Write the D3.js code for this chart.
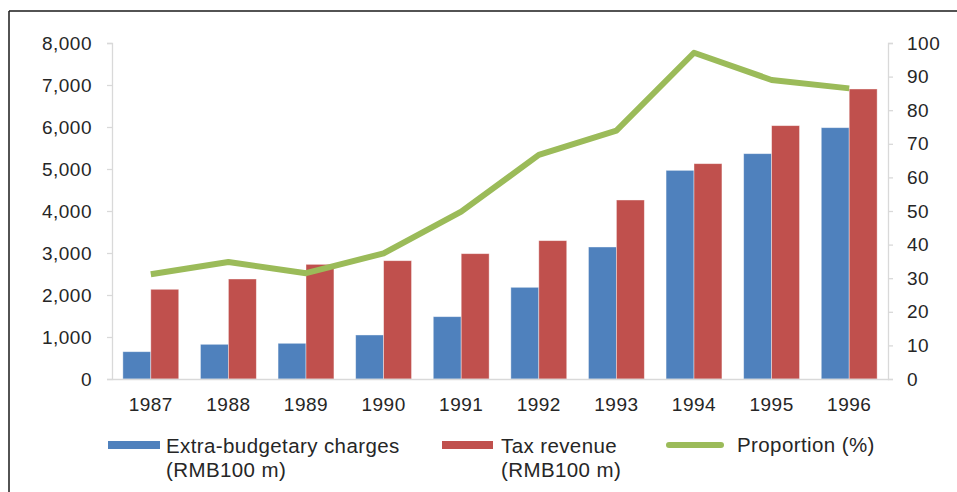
<!DOCTYPE html>
<html>
<head>
<meta charset="utf-8">
<script src="https://cdn.jsdelivr.net/npm/d3@7"></script>
<style>
    body { margin: 0; background: #fff; }
    svg { display: block; }
    text { font-family: "Liberation Sans", Arial, sans-serif; fill: #262626; }
</style>
</head>
<body>
<svg width="957" height="492"></svg>
<script>
// Data
const years = ["1987", "1988", "1989", "1990", "1991", "1992", "1993", "1994", "1995", "1996"];
const extraBudget = [650, 826, 850, 1048, 1484, 2183, 3143, 4968, 5365, 5984];
const taxRevenue = [2136, 2381, 2730, 2817, 2984, 3294, 4262, 5127, 6032, 6905];
const proportion = [31.2, 34.8, 31.5, 37.4, 49.8, 66.7, 73.9, 97.1, 89.0, 86.5];
const leftTicks = [0, 1000, 2000, 3000, 4000, 5000, 6000, 7000, 8000];
const rightTicks = [0, 10, 20, 30, 40, 50, 60, 70, 80, 90, 100];

const barColors = { extra: "#4F81BD", tax: "#C0504D" };
const lineColor = "#9BBB59";

const svg = d3.select("svg");

// frame around the chart (top + left edges visible)
svg.append("line").attr("x1", 9).attr("x2", 957).attr("y1", 11).attr("y2", 11)
    .attr("stroke", "#1a1a1a").attr("stroke-width", 1.5);
svg.append("line").attr("x1", 9).attr("x2", 9).attr("y1", 11).attr("y2", 492)
    .attr("stroke", "#1a1a1a").attr("stroke-width", 1.5);

const plot = { left: 112, right: 888, top: 43, bottom: 379 };

const x = d3.scaleBand()
    .domain(years)
    .range([plot.left, plot.right])
    .paddingInner(0.28)
    .paddingOuter(0.14);

const x1 = d3.scaleBand()
    .domain(["extra", "tax"])
    .range([0, x.bandwidth()]);

const yLeft = d3.scaleLinear().domain([0, 8000]).range([plot.bottom, plot.top]);
const yRight = d3.scaleLinear().domain([0, 100]).range([plot.bottom, plot.top]);

// Left axis
const leftAxis = svg.append("g")
    .attr("transform", `translate(${plot.left},0)`)
    .call(d3.axisLeft(yLeft).tickValues(leftTicks).tickSize(5).tickPadding(15)
        .tickFormat(d3.format(",")));

// Right axis
const rightAxis = svg.append("g")
    .attr("transform", `translate(${plot.right},0)`)
    .call(d3.axisRight(yRight).tickValues(rightTicks).tickSize(5).tickPadding(14));

[leftAxis, rightAxis].forEach(ax => {
    ax.select(".domain").attr("stroke", "#d9d9d9").attr("stroke-width", 1.3);
    ax.selectAll(".tick line").attr("stroke", "#d9d9d9").attr("stroke-width", 1.3);
    ax.selectAll(".tick text")
        .attr("fill", "#262626")
        .style("font-size", "19px")
        .style("letter-spacing", "0.5px")
        .style("font-family", "'Liberation Sans', Arial, sans-serif");
});

// Bars
const rows = years.map((yr, i) => ({ year: yr, extra: extraBudget[i], tax: taxRevenue[i] }));

const groups = svg.append("g").selectAll("g")
    .data(rows)
    .enter().append("g")
    .attr("transform", d => `translate(${x(d.year)},0)`);

groups.selectAll("rect")
    .data(d => ["extra", "tax"].map(k => ({ key: k, value: d[k] })))
    .enter().append("rect")
    .attr("x", d => x1(d.key))
    .attr("y", d => yLeft(d.value))
    .attr("width", x1.bandwidth())
    .attr("height", d => plot.bottom - yLeft(d.value))
    .attr("fill", d => barColors[d.key])
    .attr("stroke", "#ffffff")
    .attr("stroke-opacity", 0.5)
    .attr("stroke-width", 0.8);

// Bottom axis line (drawn over bars)
const bottomAxis = svg.append("g")
    .attr("transform", `translate(0,${plot.bottom})`)
    .call(d3.axisBottom(x).tickSize(0).tickPadding(19));
bottomAxis.select(".domain").attr("stroke", "#d9d9d9").attr("stroke-width", 1.3);
bottomAxis.selectAll(".tick text")
    .attr("fill", "#262626")
    .style("font-size", "19px")
    .style("letter-spacing", "0.5px")
    .style("font-family", "'Liberation Sans', Arial, sans-serif");

// Proportion line on right axis
const line = d3.line()
    .x((d, i) => x(years[i]) + x.bandwidth() / 2)
    .y(d => yRight(d));

svg.append("path")
    .datum(proportion)
    .attr("d", line)
    .attr("fill", "none")
    .attr("stroke", lineColor)
    .attr("stroke-width", 6)
    .attr("stroke-linejoin", "round");

// Legend
const legend = svg.append("g").style("font-size", "20.5px").style("letter-spacing", "0.4px");

legend.append("rect").attr("x", 108).attr("y", 441).attr("width", 52).attr("height", 8)
    .attr("fill", barColors.extra);
legend.append("text").attr("x", 166).attr("y", 453).text("Extra-budgetary charges");
legend.append("text").attr("x", 166).attr("y", 477).text("(RMB100 m)");

legend.append("rect").attr("x", 442).attr("y", 441).attr("width", 51).attr("height", 8)
    .attr("fill", barColors.tax);
legend.append("text").attr("x", 501).attr("y", 453).text("Tax revenue");
legend.append("text").attr("x", 501).attr("y", 477).text("(RMB100 m)");

legend.append("line").attr("x1", 669).attr("x2", 721).attr("y1", 445).attr("y2", 445)
    .attr("stroke", lineColor).attr("stroke-width", 6).attr("stroke-linecap", "round");
legend.append("text").attr("x", 737).attr("y", 452).text("Proportion (%)");
</script>
</body>
</html>
